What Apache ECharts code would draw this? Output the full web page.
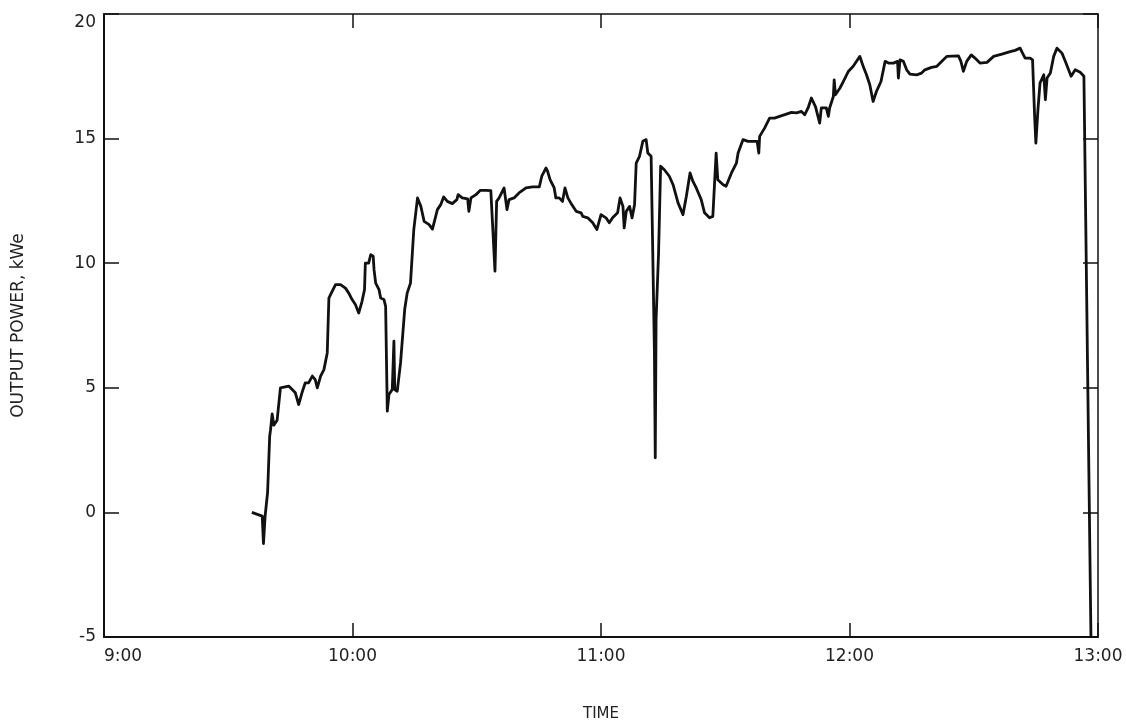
<!DOCTYPE html>
<html>
<head>
<meta charset="utf-8">
<title>Output power vs time</title>
<script src="https://cdn.jsdelivr.net/npm/echarts@6/dist/echarts.min.js"></script>
<style>
html, body { margin: 0; padding: 0; background: #ffffff; }
#chart { width: 1126px; height: 727px; }
</style>
</head>
<body>
<div id="chart"></div>
<script>
// time of day in minutes (540 = 9:00)
const timeMin = [
  575.7, 578.2, 578.5, 578.9, 579.5, 580.0, 580.2, 580.6, 581.0, 581.8,
  582.6, 584.6, 586.2, 587.0, 587.8, 588.6, 589.4, 590.3, 591.0, 591.5,
  592.3, 593.1, 593.9, 594.3, 594.7, 595.9, 597.1, 598.3, 599.1, 599.9,
  600.7, 601.5, 602.3, 602.9, 603.1, 603.9, 604.4, 605.0, 605.2, 605.6,
  606.4, 606.8, 607.6, 608.0, 608.4, 608.8, 609.6, 610.0, 610.2, 610.8,
  611.6, 612.6, 613.2, 613.6, 614.0, 614.8, 615.7, 616.5, 617.3, 618.5,
  619.3, 620.5, 621.3, 622.0, 622.9, 624.1, 625.2, 625.5, 626.5, 627.8,
  628.1, 628.6, 629.8, 630.8, 632.2, 633.4, 633.8, 634.4, 634.8, 635.4,
  636.6, 637.3, 637.8, 639.0, 640.2, 641.9, 643.5, 645.1, 645.7, 646.7,
  647.1, 647.7, 648.7, 649.1, 649.9, 650.7, 651.3, 652.0, 652.7, 654.0,
  655.2, 655.6, 656.8, 658.0, 659.0, 660.0, 661.2, 662.0, 662.8, 664.0,
  664.6, 665.3, 665.6, 666.1, 666.9, 667.5, 668.1, 668.5, 669.3, 670.1,
  670.9, 671.3, 672.1, 672.5, 672.9, 673.1, 673.3, 673.9, 674.4, 675.3,
  676.5, 677.4, 678.6, 679.8, 680.6, 681.5, 682.2, 683.0, 684.2, 685.0,
  686.2, 687.0, 687.8, 688.2, 689.5, 690.2, 691.5, 692.7, 693.1, 694.3,
  695.5, 696.3, 697.7, 698.1, 698.3, 699.5, 700.7, 701.9, 703.1, 704.4,
  706.0, 707.2, 708.4, 709.2, 710.0, 710.8, 711.8, 712.8, 713.2, 714.4,
  714.9, 715.2, 716.1, 716.3, 716.6, 717.7, 718.5, 719.7, 720.9, 721.7,
  722.5, 723.3, 724.1, 724.9, 725.7, 726.5, 727.6, 728.6, 729.4, 730.6,
  731.6, 731.8, 732.2, 733.0, 733.8, 734.6, 736.2, 737.4, 738.2, 739.8,
  741.1, 742.3, 743.5, 746.3, 746.9, 747.5, 748.3, 749.4, 750.3, 751.5,
  753.2, 754.8, 756.8, 758.8, 760.0, 761.2, 761.6, 762.4, 763.6, 764.2,
  764.7, 765.0, 765.5, 766.0, 766.9, 767.3, 767.7, 768.5, 769.3, 770.1,
  771.3, 772.1, 772.9, 773.5, 774.5, 775.7, 776.6, 778.3
]
// output power, kWe
const powerKw = [
  0.0, -0.15, -1.25, -0.15, 0.8, 3.05, 3.3, 3.95, 3.5, 3.7,
  5.0, 5.07, 4.8, 4.33, 4.8, 5.2, 5.2, 5.47, 5.33, 5.0,
  5.47, 5.73, 6.4, 8.6, 8.74, 9.14, 9.14, 9.0, 8.8, 8.54,
  8.34, 8.0, 8.47, 8.94, 10.0, 10.0, 10.34, 10.28, 9.74, 9.2,
  8.94, 8.6, 8.54, 8.27, 4.06, 4.73, 4.93, 6.87, 4.93, 4.86,
  6.0, 8.14, 8.8, 8.87, 9.2, 11.35, 12.62, 12.28, 11.68, 11.55,
  11.37, 12.15, 12.35, 12.66, 12.48, 12.39, 12.55, 12.75, 12.62, 12.58,
  12.08, 12.62, 12.75, 12.92, 12.92, 12.91, 12.88, 9.68, 12.48, 12.62,
  13.02, 12.15, 12.55, 12.62, 12.82, 13.02, 13.06, 13.06, 13.49, 13.82,
  13.69, 13.35, 13.02, 12.62, 12.62, 12.48, 13.02, 12.62, 12.42, 12.08,
  12.02, 11.88, 11.82, 11.62, 11.35, 11.95, 11.82, 11.62, 11.82, 12.02,
  12.62, 12.28, 11.42, 12.08, 12.28, 11.82, 12.35, 14.02, 14.29, 14.89,
  14.96, 14.42, 14.29, 10.41, 6.4, 2.19, 7.74, 10.41, 13.89, 13.75,
  13.49, 13.15, 12.42, 11.95, 12.68, 13.62, 13.28, 13.02, 12.55, 12.02,
  11.82, 11.88, 14.42, 13.35, 13.15, 13.09, 13.62, 14.02, 14.42, 14.96,
  14.89, 14.89, 14.89, 14.42, 15.09, 15.42, 15.82, 15.82, 15.89, 15.96,
  16.05, 16.03, 16.09, 15.96, 16.23, 16.63, 16.27, 15.62, 16.23, 16.23,
  15.89, 16.23, 16.69, 17.36, 16.76, 17.03, 17.29, 17.69, 17.9, 18.1,
  18.3, 17.9, 17.56, 17.16, 16.49, 16.89, 17.29, 18.1, 18.03, 18.03,
  18.1, 17.43, 18.16, 18.1, 17.76, 17.59, 17.56, 17.63, 17.76, 17.86,
  17.9, 18.1, 18.3, 18.32, 18.1, 17.7, 18.1, 18.36, 18.23, 18.03,
  18.06, 18.3, 18.39, 18.49, 18.54, 18.63, 18.49, 18.23, 18.23, 18.16,
  15.89, 14.82, 16.16, 17.23, 17.56, 16.56, 17.43, 17.63, 18.3, 18.63,
  18.43, 18.1, 17.76, 17.5, 17.76, 17.66, 17.5, -5.0
]
const xTickLabels = ['9:00', '10:00', '11:00', '12:00', '13:00']
const xMin = 540
const xMax = 780
const yMin = -5
const yMax = 20

let font = 'DejaVu Sans'
let ink = '#111111'

let seriesData = timeMin.map(function (t, i) {
  return [t, powerKw[i]]
})

let chart = echarts.init(document.getElementById('chart'))

let option = {
  animation: false,
  backgroundColor: '#ffffff',
  grid: { left: 104, right: 28, top: 14, bottom: 88 },
  xAxis: [{
    type: 'value',
    position: 'bottom',
    min: xMin,
    max: xMax,
    interval: 60,
    name: 'TIME',
    nameLocation: 'middle',
    nameGap: 70,
    nameTextStyle: { fontFamily: font, fontSize: 15, color: '#222' },
    axisLine: { onZero: false, lineStyle: { color: ink, width: 2 } },
    axisTick: { inside: true, length: 14, lineStyle: { color: ink, width: 1.5 } },
    axisLabel: {
      margin: 11,
      fontFamily: font,
      fontSize: 17,
      color: '#222',
      alignMinLabel: 'left',
      formatter: function (v) {
        return xTickLabels[Math.round((v - xMin) / 60)]
      }
    },
    splitLine: { show: false }
  }, {
    type: 'value',
    position: 'top',
    min: xMin,
    max: xMax,
    interval: 60,
    axisLine: { onZero: false, lineStyle: { color: ink, width: 1.5 } },
    axisTick: { inside: true, length: 14, lineStyle: { color: ink, width: 1.5 } },
    axisLabel: { show: false },
    splitLine: { show: false }
  }],
  yAxis: [{
    type: 'value',
    position: 'left',
    min: yMin,
    max: yMax,
    interval: 5,
    name: 'OUTPUT POWER, kWe',
    nameLocation: 'middle',
    nameGap: 77,
    nameTextStyle: { fontFamily: font, fontSize: 17, color: '#222' },
    axisLine: { show: true, onZero: false, lineStyle: { color: ink, width: 2 } },
    axisTick: { show: true, inside: true, length: 15, lineStyle: { color: ink, width: 1.5 } },
    axisLabel: {
      margin: 8,
      fontFamily: font,
      fontSize: 17,
      color: '#222',
      verticalAlignMaxLabel: 'top'
    },
    splitLine: { show: false }
  }, {
    type: 'value',
    position: 'right',
    min: yMin,
    max: yMax,
    interval: 5,
    axisLine: { show: true, onZero: false, lineStyle: { color: ink, width: 1.5 } },
    axisTick: { show: true, inside: true, length: 15, lineStyle: { color: ink, width: 1.5 } },
    axisLabel: { show: false },
    splitLine: { show: false }
  }],
  series: [{
    type: 'line',
    xAxisIndex: 0,
    yAxisIndex: 0,
    data: seriesData,
    showSymbol: false,
    lineStyle: { color: ink, width: 2.8, join: 'round' }
  }]
}

chart.setOption(option)
</script>
</body>
</html>
